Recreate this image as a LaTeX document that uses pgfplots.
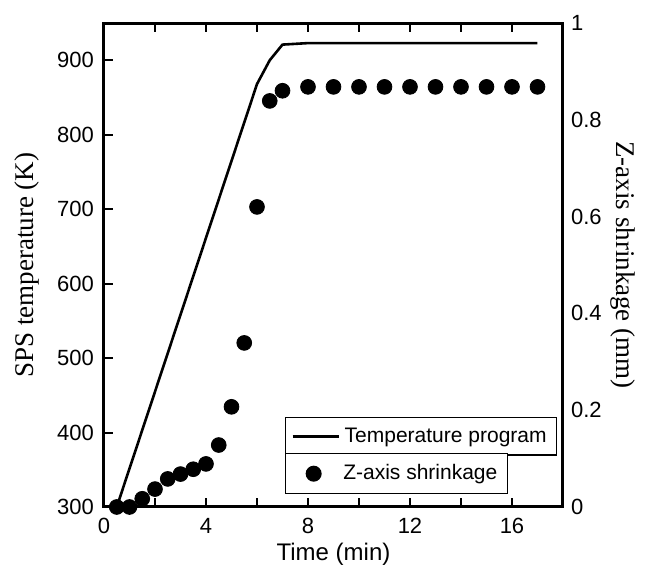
\documentclass[border=0pt]{standalone}
\usepackage{pgfplots}
\pgfplotsset{compat=1.18}
\usepackage{fontspec}
\setmainfont{Liberation Sans}
\newfontfamily\seriffont{Liberation Serif}
\begin{document}
\begin{tikzpicture}
\begin{axis}[
  scale only axis, width=229.5pt, height=242pt,
  xmin=0, xmax=18,
  ymin=300, ymax=950,
  font=\fontsize{11}{13}\selectfont,
  /pgf/number format/assume math mode=true,
  axis line style={line width=1.5pt},
  tick style={line width=1pt, black},
  major tick length=4.5pt, minor tick length=4.5pt,
  tick align=inside,
  ytick={300,400,500,600,700,800,900},
  xtick={0,4,8,12,16},
  minor xtick={2,6,10,14},
  xtick pos=both, ytick pos=left,
  yticklabel style={xshift=-1.5pt},
  xticklabel style={yshift=-2pt},
  xlabel={Time (min)},
  xlabel style={font=\fontsize{12}{14}\selectfont, yshift=2pt},
  ylabel={\seriffont SPS temperature (K)},
  ylabel style={font=\fontsize{13.5}{15}\selectfont, yshift=2pt},
  legend style={at={(0.394,0.186)}, anchor=north west, draw=black, line width=0.6pt,
    font=\fontsize{10.5}{12}\selectfont, inner xsep=3pt, inner ysep=3pt,
    legend cell align=left},
  legend image code/.code={\draw[#1, line width=1.3pt] (0cm,0cm) -- (0.82cm,0cm);},
]
\addplot[black, line width=1.3pt] coordinates {
(0.5,300) (6,868) (6.5,900) (7,921) (8,923) (17,923)
};
\addlegendentry{Temperature program\hspace{2pt}}
\end{axis}
\begin{axis}[
  scale only axis, width=229.5pt, height=242pt,
  xmin=0, xmax=18,
  ymin=0, ymax=1,
  font=\fontsize{11}{13}\selectfont,
  /pgf/number format/assume math mode=true,
  axis line style={line width=1.5pt, -},
  axis y line*=right, axis x line*=bottom,
  xtick={0,4,8,12,16},
  minor xtick={2,6,10,14},
  xticklabels={},
  tick align=inside,
  major tick length=4.5pt, minor tick length=4.5pt,
  xtick style={line width=1pt, black},
  ytick style={draw=none},
  ytick={0,0.2,0.4,0.6,0.8,1},
  yticklabels={0,0.2,0.4,0.6,0.8,1},
  yticklabel style={xshift=0.5pt},
  ylabel={\seriffont Z-axis shrinkage (mm)},
  ylabel style={font=\fontsize{13.5}{15}\selectfont, rotate=180, yshift=-2.5pt},
  legend style={at={(0.394,0.1116)}, anchor=north west, draw=black, line width=0.6pt,
    font=\fontsize{10.5}{12}\selectfont, inner xsep=3pt, inner ysep=3.5pt,
    legend cell align=left},
  legend image code/.code={\draw[#1] plot coordinates {(0.38cm,0cm)}; \path (0cm,0cm) (0.82cm,0cm);},
]
\addplot[only marks, mark=*, mark size=3.7pt, black] coordinates {
(0.5,0) (1,0) (1.5,0.017) (2,0.037) (2.5,0.058) (3,0.068) (3.5,0.078) (4,0.089)
(4.5,0.128) (5,0.207) (5.5,0.339) (6,0.62) (6.5,0.839) (7,0.86)
(8,0.868) (9,0.868) (10,0.868) (11,0.868) (12,0.868) (13,0.868) (14,0.868) (15,0.868) (16,0.868) (17,0.868)
};
\addlegendentry{Z-axis shrinkage\hspace{2pt}}
\end{axis}
\path (-52pt,-32.5pt) rectangle (273pt,253.5pt);
\end{tikzpicture}
\end{document}
